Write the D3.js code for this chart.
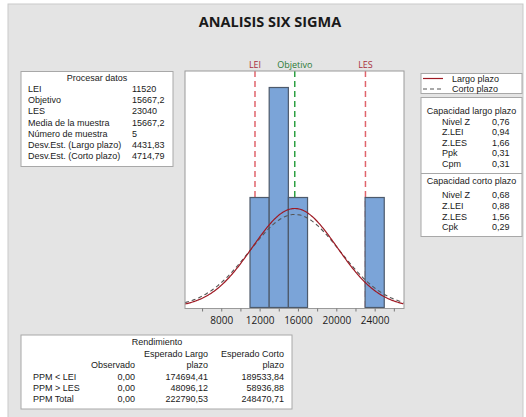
<!DOCTYPE html>
<html>
<head>
<meta charset="utf-8">
<script src="https://cdn.jsdelivr.net/npm/d3@7"></script>
<style>
  body { margin: 0; background: #fff; }
  svg { display: block; font-family: "Open Sans", "Noto Sans", sans-serif; }
</style>
</head>
<body>
<svg id="chart" width="526" height="417"></svg>
<script>
// ---- data ----
const specNames = ['LEI', 'Objetivo', 'LES'];
const specValues = [11520, 15667.2, 23040];

const binStarts = [11000, 13000, 15000, 23000];
const binCounts = [1, 2, 1, 1];
const binWidth = 2000;

const sampleMean = 15667.2;
const sdLong = 4431.83;   // Largo plazo
const sdShort = 4714.79;  // Corto plazo
const sampleSize = 5;

const axisTicks = [6000, 8000, 10000, 12000, 14000, 16000, 18000, 20000, 22000, 24000, 26000];

const procLabels = ['LEI', 'Objetivo', 'LES', 'Media de la muestra', 'Número de muestra', 'Desv.Est. (Largo plazo)', 'Desv.Est. (Corto plazo)'];
const procValues = ['11520', '15667,2', '23040', '15667,2', '5', '4431,83', '4714,79'];

const capLongLabels = ['Nivel Z', 'Z.LEI', 'Z.LES', 'Ppk', 'Cpm'];
const capLongValues = ['0,76', '0,94', '1,66', '0,31', '0,31'];
const capShortLabels = ['Nivel Z', 'Z.LEI', 'Z.LES', 'Cpk'];
const capShortValues = ['0,68', '0,88', '1,56', '0,29'];

const yieldRows = ['PPM < LEI', 'PPM > LES', 'PPM Total'];
const yieldObserved = ['0,00', '0,00', '0,00'];
const yieldLong = ['174694,41', '48096,12', '222790,53'];
const yieldShort = ['189533,84', '58936,88', '248470,71'];

// ---- setup ----
const svg = d3.select('#chart');
const textColor = '#1a1a1a';
const panelFont = '"Liberation Sans", Arial, sans-serif';

// gray frame
svg.append('rect')
    .attr('x', 8).attr('y', 4)
    .attr('width', 515).attr('height', 420)
    .attr('fill', '#e4e4e4')
    .attr('stroke', '#c9c9c9');

svg.append('text')
    .attr('x', 270).attr('y', 27)
    .attr('text-anchor', 'middle')
    .attr('font-size', 14.5).attr('font-weight', 'bold')
    .attr('fill', textColor)
    .text('ANALISIS SIX SIGMA');

// ---- histogram ----
const plot = { left: 185, right: 404, top: 71, bottom: 308.5 };
const x = d3.scaleLinear().domain([4220, 27060]).range([plot.left, plot.right]);
const y = d3.scaleLinear().domain([0, 2.15]).range([307.5, plot.top]);

svg.append('rect')
    .attr('x', plot.left).attr('y', plot.top)
    .attr('width', plot.right - plot.left).attr('height', plot.bottom - plot.top)
    .attr('fill', '#fff');

svg.append('clipPath').attr('id', 'plotClip')
    .append('rect')
    .attr('x', plot.left).attr('y', plot.top)
    .attr('width', plot.right - plot.left).attr('height', plot.bottom - plot.top);

const plotG = svg.append('g').attr('clip-path', 'url(#plotClip)');

// spec lines (behind bars)
const specLineColors = ['#e0646c', '#2ea043', '#e0646c'];
const specTextColors = ['#a8303c', '#2b7a35', '#a8303c'];

plotG.selectAll('.spec-line')
    .data(specValues)
    .enter()
    .append('line')
    .attr('class', 'spec-line')
    .attr('x1', d => x(d)).attr('x2', d => x(d))
    .attr('y1', plot.top).attr('y2', plot.bottom)
    .attr('stroke', (d, i) => specLineColors[i])
    .attr('stroke-width', 1.5)
    .attr('stroke-dasharray', '6,4');

svg.selectAll('.spec-label')
    .data(specValues)
    .enter()
    .append('text')
    .attr('class', 'spec-label')
    .attr('x', d => x(d)).attr('y', 68)
    .attr('text-anchor', 'middle')
    .attr('font-size', 9)
    .attr('fill', (d, i) => specTextColors[i])
    .text((d, i) => specNames[i]);

// bars
plotG.selectAll('.bar')
    .data(binStarts)
    .enter()
    .append('rect')
    .attr('class', 'bar')
    .attr('x', d => x(d))
    .attr('width', d => x(d + binWidth) - x(d))
    .attr('y', (d, i) => y(binCounts[i]))
    .attr('height', (d, i) => y(0) - y(binCounts[i]))
    .attr('fill', '#7ba4d8')
    .attr('stroke', '#4d5a6b')
    .attr('stroke-width', 1.2);

// fitted normal curves scaled to counts
const normalCount = sd => v => sampleSize * binWidth * Math.exp(-0.5 * ((v - sampleMean) / sd) ** 2) / (sd * Math.sqrt(2 * Math.PI));
const curveXs = d3.range(x.domain()[0], x.domain()[1] + 1, 100);
const line = fn => d3.line().x(v => x(v)).y(v => y(fn(v)));

plotG.append('path')
    .datum(curveXs)
    .attr('d', line(normalCount(sdShort)))
    .attr('fill', 'none')
    .attr('stroke', '#555')
    .attr('stroke-width', 1.1)
    .attr('stroke-dasharray', '4,3');

plotG.append('path')
    .datum(curveXs)
    .attr('d', line(normalCount(sdLong)))
    .attr('fill', 'none')
    .attr('stroke', '#9e1a24')
    .attr('stroke-width', 1.2);

svg.append('rect')
    .attr('x', plot.left).attr('y', plot.top)
    .attr('width', plot.right - plot.left).attr('height', plot.bottom - plot.top)
    .attr('fill', 'none')
    .attr('stroke', '#9a9a9a');

// x axis
const xAxis = d3.axisBottom(x)
    .tickValues(axisTicks)
    .tickFormat(d => d % 4000 === 0 ? d : '')
    .tickSize(3)
    .tickSizeOuter(0);

const axisG = svg.append('g')
    .attr('transform', `translate(0, ${plot.bottom})`)
    .call(xAxis);
axisG.select('.domain').remove();
axisG.selectAll('line').attr('stroke', '#777');
axisG.selectAll('text')
    .attr('font-family', '"Open Sans", sans-serif')
    .attr('font-size', 10)
    .attr('fill', textColor)
    .attr('dy', '0.95em');

// ---- panel helper ----
function panel(x0, y0, w, h) {
    svg.append('rect')
        .attr('x', x0).attr('y', y0)
        .attr('width', w).attr('height', h)
        .attr('fill', '#fff')
        .attr('stroke', '#a8a8a8');
}
function txt(xp, yp, s, anchor = 'start', size = 9) {
    svg.append('text')
        .attr('x', xp).attr('y', yp)
        .attr('text-anchor', anchor)
        .attr('font-family', panelFont)
        .attr('font-size', size)
        .attr('fill', textColor)
        .text(s);
}

// Procesar datos
panel(21, 71.5, 152, 95);
txt(97, 80.5, 'Procesar datos', 'middle');
procLabels.forEach((s, i) => {
    const yy = 92 + i * 11.2;
    txt(28, yy, s);
    txt(132, yy, procValues[i]);
});

// Legend
panel(421, 73.5, 101, 20);
svg.append('line')
    .attr('x1', 423).attr('x2', 443).attr('y1', 78.5).attr('y2', 78.5)
    .attr('stroke', '#9e1a24').attr('stroke-width', 1.2);
svg.append('line')
    .attr('x1', 423).attr('x2', 443).attr('y1', 89).attr('y2', 89)
    .attr('stroke', '#555').attr('stroke-width', 1.1).attr('stroke-dasharray', '4,3');
txt(452, 81.5, 'Largo plazo');
txt(452, 92, 'Corto plazo');

// Capacidad
panel(421, 97.5, 101, 139);
txt(471.5, 113.5, 'Capacidad largo plazo', 'middle');
capLongLabels.forEach((s, i) => {
    const yy = 124.5 + i * 10.6;
    txt(442, yy, s);
    txt(492, yy, capLongValues[i]);
});
svg.append('line')
    .attr('x1', 421).attr('x2', 522).attr('y1', 173.5).attr('y2', 173.5)
    .attr('stroke', '#a8a8a8');
txt(471.5, 184, 'Capacidad corto plazo', 'middle');
capShortLabels.forEach((s, i) => {
    const yy = 198 + i * 10.8;
    txt(442, yy, s);
    txt(492, yy, capShortValues[i]);
});

// Rendimiento
panel(21, 335, 271, 74);
txt(157, 345, 'Rendimiento', 'middle');
txt(208, 356.5, 'Esperado Largo', 'end');
txt(284, 356.5, 'Esperado Corto', 'end');
txt(135, 368, 'Observado', 'end');
txt(208, 368, 'plazo', 'end');
txt(284, 368, 'plazo', 'end');
yieldRows.forEach((s, i) => {
    const yy = 380 + i * 10.8;
    txt(33, yy, s);
    txt(135, yy, yieldObserved[i], 'end');
    txt(208, yy, yieldLong[i], 'end');
    txt(284, yy, yieldShort[i], 'end');
});
</script>
</body>
</html>
